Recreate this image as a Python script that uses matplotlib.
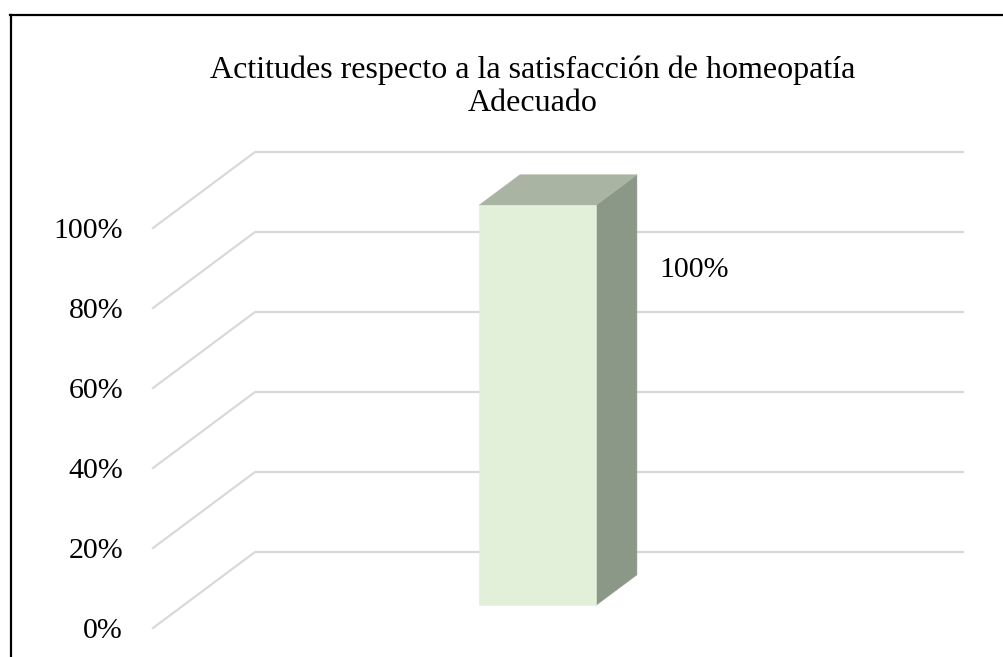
import matplotlib.pyplot as plt
from matplotlib.patches import Polygon
from matplotlib.lines import Line2D

categories = ['Adecuado']
values = [100]
ticks = [0, 20, 40, 60, 80, 100]
tick_labels = [f'{t}%' for t in ticks]
title = 'Actitudes respecto a la satisfacción de homeopatía'
subtitle = 'Adecuado'

plt.rcParams['font.family'] = ['Liberation Serif', 'DejaVu Serif']

W, H = 1004, 657
fig = plt.figure(figsize=(W / 100, H / 100), dpi=100)

# front plane of the fake 3d box: 0% at y=628px, back wall offset (102px, -76px)
ax = fig.add_axes([153 / W, (H - 628) / H, (963 - 153) / W, (628 - 152) / H])
DX = 102 / 708          # depth offset in x units
DY = 19                 # depth offset in y units (percent)
ax.set_xlim(-0.5, 0.5 + DX)
ax.set_ylim(0, 100 + DY)

grid_c = '#d9d9d9'
for t in ticks:
    ax.plot([-0.5, -0.5 + DX, 0.5 + DX], [t, t + DY, t + DY],
            color=grid_c, lw=1.6, clip_on=False, zorder=1)

bw = 117 / 708
d0, d1 = 0.3, 0.7
front_c, top_c, side_c = '#e2efd9', '#a9b5a2', '#8b9787'
for i, v in enumerate(values):
    xl = i - bw / 2
    xr = i + bw / 2
    front = [(xl + d0 * DX, d0 * DY), (xr + d0 * DX, d0 * DY),
             (xr + d0 * DX, v + d0 * DY), (xl + d0 * DX, v + d0 * DY)]
    top = [(xl + d0 * DX, v + d0 * DY), (xr + d0 * DX, v + d0 * DY),
           (xr + d1 * DX, v + d1 * DY), (xl + d1 * DX, v + d1 * DY)]
    side = [(xr + d0 * DX, d0 * DY), (xr + d1 * DX, d1 * DY),
            (xr + d1 * DX, v + d1 * DY), (xr + d0 * DX, v + d0 * DY)]
    for pts, c in ((side, side_c), (top, top_c), (front, front_c)):
        ax.add_patch(Polygon(pts, closed=True, facecolor=c, edgecolor=c,
                             lw=0.4, zorder=3, clip_on=False))
    ax.text(xr + d1 * DX + 0.032, v - 10.5, f'{v}%', ha='left', va='center',
            fontsize=21.5, color='#000000', zorder=4)

ax.set_xticks([])
ax.set_yticks(ticks, tick_labels)
ax.tick_params(axis='y', length=0, pad=21.6, labelsize=21.5, labelcolor='#000000')
for s in ax.spines.values():
    s.set_visible(False)
ax.patch.set_alpha(0)

fig.text(533 / W, 1 - 78 / H, title, ha='center', va='baseline', fontsize=23)
fig.text(533 / W, 1 - 111 / H, subtitle, ha='center', va='baseline', fontsize=23)

# chart border (cropped at right and bottom)
fig.add_artist(Line2D([10 / W, 1], [1 - 15 / H, 1 - 15 / H], color='#000000', lw=1.6))
fig.add_artist(Line2D([11 / W, 11 / W], [0, 1 - 15 / H], color='#000000', lw=1.6))

fig.savefig('out.png', dpi=100)
